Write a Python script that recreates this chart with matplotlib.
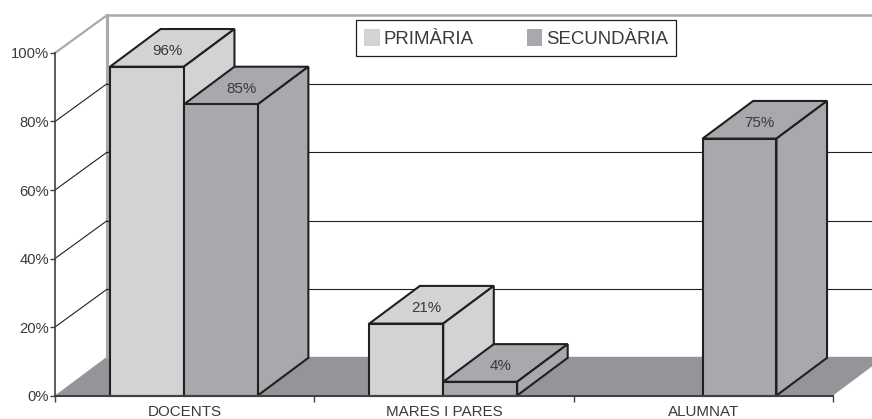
import matplotlib
matplotlib.use('Agg')
import matplotlib.pyplot as plt
from matplotlib.patches import Polygon, Patch

plt.rcParams['font.family'] = ['Liberation Sans', 'DejaVu Sans']

# ----------------------------- Data ------------------------------------
categories = ['DOCENTS', 'MARES I PARES', 'ALUMNAT']
primaria = [96, 21, 0]
secundaria = [85, 4, 75]
yticks = [0, 20, 40, 60, 80, 100]

# ----------------------------- Style -----------------------------------
light = '#d1d3d4'
mid = '#a7a9ac'
floor = '#939598'
dark = '#231f20'
txt = '#3a3a3c'

bar_w = 0.285       # one bar, in category units
dep_x = 0.195       # oblique depth, x
dep_y = 11.0        # oblique depth, y

W, H = 872, 419
fig = plt.figure(figsize=(W / 100, H / 100), dpi=100)
ax = fig.add_axes([55 / W, (H - 395.5) / H, 778 / W, 342.5 / H])
ax.set_xlim(0, 3)
ax.set_ylim(0, 100)
ax.patch.set_visible(False)


def poly(pts, fc='none', ec='none', lw=0, z=1):
    ax.add_patch(Polygon(pts, closed=True, fc=fc, ec=ec, lw=lw, zorder=z,
                         clip_on=False, joinstyle='miter'))


def bar3d(x, v, col, z):
    e = dict(fc=col, ec=dark, lw=1.5, z=z)
    poly([(x, v), (x + dep_x, v + dep_y), (x + bar_w + dep_x, v + dep_y), (x + bar_w, v)], **e)
    poly([(x + bar_w, 0), (x + bar_w + dep_x, dep_y), (x + bar_w + dep_x, v + dep_y), (x + bar_w, v)], **e)
    poly([(x, 0), (x + bar_w, 0), (x + bar_w, v), (x, v)], **e)
    ax.text(x + bar_w / 2 + 0.078, v + dep_y * 0.41, '%d%%' % v, ha='center', va='center',
            fontsize=10.9, color=txt, zorder=z + 0.5, clip_on=False)


# floor and walls
poly([(0, 0), (0.2, 11.3), (3.2, 11.3), (3, 0)], fc=floor, z=1)
ax.plot([0.2, 0.2], [11.3, 100 + dep_y], color=mid, lw=2.2, zorder=1.5, clip_on=False)
ax.plot([0.2, 3.2], [100 + dep_y, 100 + dep_y], color=mid, lw=1.8, zorder=1.5, clip_on=False)
ax.plot([0, 0.2], [100, 100 + dep_y], color=mid, lw=1.6, zorder=1.5, clip_on=False)
for t in yticks[1:-1]:
    ax.plot([0, 0.2], [t, t + dep_y], color=dark, lw=0.8, zorder=1.5, clip_on=False)
    ax.plot([0.2, 3.2], [t + dep_y, t + dep_y], color=dark, lw=0.8, zorder=1.5, clip_on=False)

# bars, back to front in every group
z = 3
for i in range(len(categories)):
    if primaria[i] > 0:
        bar3d(i + 0.497 - bar_w, primaria[i], light, z)
    z += 1
    if secundaria[i] > 0:
        bar3d(i + 0.497, secundaria[i], mid, z)
    z += 1

# axes
for s in ['top', 'right']:
    ax.spines[s].set_visible(False)
ax.spines['left'].set_color('#414042')
ax.spines['left'].set_linewidth(1.2)
ax.spines['bottom'].set_color('#414042')
ax.spines['bottom'].set_linewidth(1.5)
ax.spines['left'].set_zorder(2)
ax.spines['bottom'].set_zorder(30)
ax.set_yticks(yticks)
ax.set_yticklabels(['%d%%' % t for t in yticks], fontsize=10.6, color=txt)
ax.tick_params(axis='y', length=3.5, width=1, color='#414042', pad=1)
ax.set_xticks([0, 1, 2, 3])
ax.set_xticklabels([])
ax.tick_params(axis='x', length=4.5, width=1, color='#414042')
ax.set_xticks([0.5, 1.5, 2.5], minor=True)
ax.set_xticklabels(categories, minor=True, fontsize=10.9, color=txt)
ax.tick_params(axis='x', which='minor', length=0, pad=7)

# legend
handles = [Patch(fc=light, ec='none', label='PRIMÀRIA'), Patch(fc=mid, ec='none', label='SECUNDÀRIA')]
leg = ax.legend(handles=handles, ncol=2, loc='center',
                bbox_to_anchor=(516 / W, (H - 38.2) / H), bbox_transform=fig.transFigure,
                fontsize=13.4, fancybox=False, framealpha=1, edgecolor=dark,
                handlelength=0.85, handleheight=1.1, handletextpad=0.2, columnspacing=2.85,
                borderpad=0.45, borderaxespad=0, labelcolor=txt)
leg.get_frame().set_linewidth(0.9)
leg.set_zorder(40)

fig.savefig('out.png', dpi=100)
